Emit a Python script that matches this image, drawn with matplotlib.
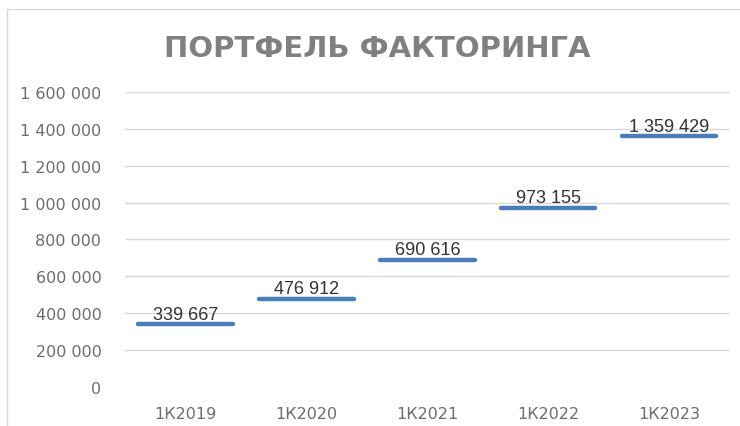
import matplotlib
matplotlib.use("Agg")
import matplotlib.pyplot as plt
from matplotlib.lines import Line2D
from matplotlib.ticker import FuncFormatter

# данные
kvartaly = ["1К2019", "1К2020", "1К2021", "1К2022", "1К2023"]
portfel = [339667, 476912, 690616, 973155, 1359429]
y_ticks = [0, 200000, 400000, 600000, 800000, 1000000, 1200000, 1400000, 1600000]

def s_probelami(v, pos=None):
    return f"{int(v):,}".replace(",", " ")

fig = plt.figure(figsize=(7.4, 4.27), dpi=100)
ax = fig.add_axes([0.169, 0.0913, 0.817, 0.691])

# рамка диаграммы
fig.add_artist(Line2D([7 / 740, 7 / 740], [0, 1 - 10 / 427], color="#d9d9d9", lw=1))
fig.add_artist(Line2D([7 / 740, 1], [1 - 10 / 427, 1 - 10 / 427], color="#d9d9d9", lw=1))

x = list(range(len(kvartaly)))
ax.hlines(portfel, [i - 0.39 for i in x], [i + 0.39 for i in x],
          colors="#4a7ebb", linewidth=3.2, capstyle="round", zorder=3)

for i, v in zip(x, portfel):
    ax.annotate(s_probelami(v), (i, v), xytext=(0, 1.2), textcoords="offset points",
                ha="center", va="bottom", fontsize=13, color="#333333",
                family="Liberation Sans", zorder=4)

ax.set_xlim(-0.5, len(kvartaly) - 0.5)
ax.set_ylim(0, 1600000)
ax.set_yticks(y_ticks)
ax.yaxis.set_major_formatter(FuncFormatter(s_probelami))
ax.set_xticks(x)
ax.set_xticklabels(kvartaly)

ax.grid(axis="y", color="#d9d9d9", linewidth=1)
ax.yaxis.get_gridlines()[0].set_visible(False)
ax.set_axisbelow(True)
for s in ax.spines.values():
    s.set_visible(False)
ax.tick_params(length=0, colors="#6d6d6d", labelsize=11.5)
ax.tick_params(axis="y", pad=17)
ax.tick_params(axis="x", pad=14)

fig.text(0.51, 0.885, "ПОРТФЕЛЬ ФАКТОРИНГА", ha="center", va="center",
         fontsize=21, fontweight="bold", color="#808080")

plt.savefig("out.png", dpi=100)
plt.close()
